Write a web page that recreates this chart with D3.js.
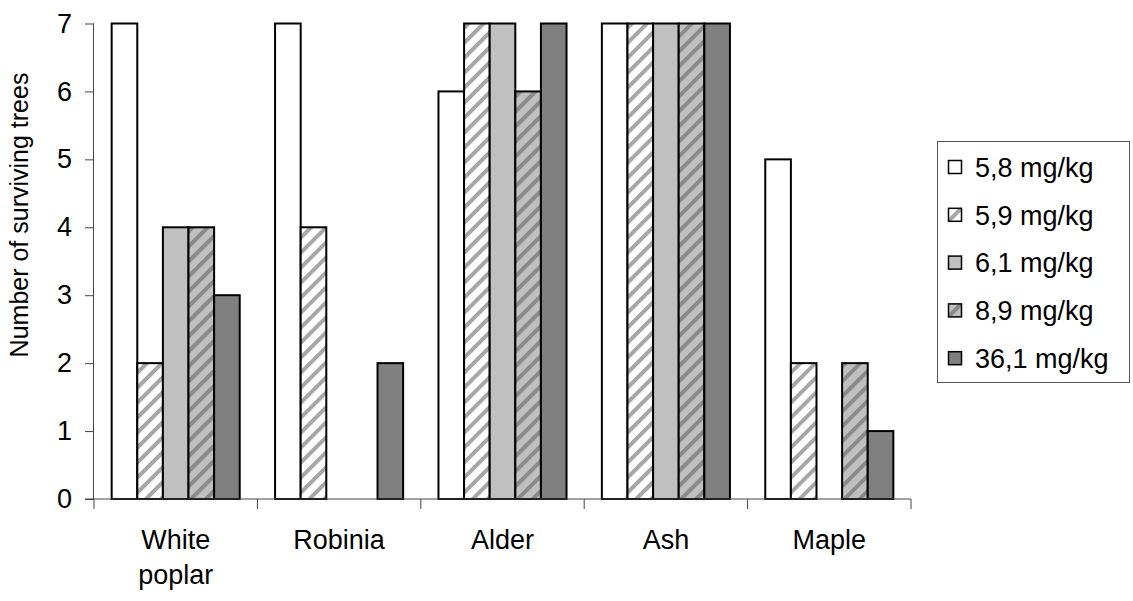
<!DOCTYPE html>
<html>
<head>
<meta charset="utf-8">
<script src="https://cdn.jsdelivr.net/npm/d3@7"></script>
<style>
	body { margin: 0; background: #fff; }
	svg text { font-family: "Liberation Sans", Arial, sans-serif; fill: #000; }
</style>
</head>
<body>
<div id="chart"></div>
<script>
(function (d3) {
	'use strict';

	// DATA
	const categories = ["White poplar", "Robinia", "Alder", "Ash", "Maple"];
	const seriesNames = ["5,8 mg/kg", "5,9 mg/kg", "6,1 mg/kg", "8,9 mg/kg", "36,1 mg/kg"];
	const s58 = [7, 7, 6, 7, 5];
	const s59 = [2, 4, 7, 7, 2];
	const s61 = [4, 0, 7, 7, 0];
	const s89 = [4, 0, 6, 7, 2];
	const s361 = [3, 2, 7, 7, 1];
	const yTicks = [0, 1, 2, 3, 4, 5, 6, 7];
	const yTitle = "Number of surviving trees";

	const seriesValues = [s58, s59, s61, s89, s361];

	const width = 1133, height = 601;
	const margin = { top: 23.5, right: 222, bottom: 102, left: 94 };
	const innerWidth = width - margin.left - margin.right;
	const innerHeight = height - margin.top - margin.bottom;

	const svg = d3.select("#chart").append("svg")
		.attr("width", width)
		.attr("height", height);

	// hatch patterns
	const defs = svg.append("defs");
	const hatch = (id, bg, stripe) => {
		const p = defs.append("pattern")
			.attr("id", id)
			.attr("patternUnits", "userSpaceOnUse")
			.attr("width", 10.6)
			.attr("height", 10.6)
			.attr("patternTransform", "rotate(45)");
		p.append("rect").attr("width", 10.6).attr("height", 10.6).attr("fill", bg);
		p.append("rect").attr("x", 0).attr("width", 4).attr("height", 10.6).attr("fill", stripe);
	};
	hatch("hatchWhite", "#ffffff", "#a6a6a6");
	hatch("hatchGray", "#c0c0c0", "#8a8a8a");

	const fills = ["#ffffff", "url(#hatchWhite)", "#c0c0c0", "url(#hatchGray)", "#808080"];

	const g = svg.append("g")
		.attr("transform", `translate(${margin.left},${margin.top})`);

	// scales
	const x0 = d3.scaleBand()
		.domain(categories)
		.range([0, innerWidth]);

	const x1 = d3.scaleBand()
		.domain(d3.range(seriesNames.length))
		.range([0, x0.bandwidth()])
		.paddingInner(0)
		.paddingOuter(0.69);

	const y = d3.scaleLinear()
		.domain([0, 7])
		.range([innerHeight, 0]);

	// bars
	const groups = g.selectAll(".cat")
		.data(categories)
		.enter().append("g")
		.attr("class", "cat")
		.attr("transform", c => `translate(${x0(c)},0)`);

	groups.selectAll("rect")
		.data((c, ci) => seriesValues.map((vals, si) => ({ si: si, v: vals[ci] })).filter(d => d.v > 0))
		.enter().append("rect")
		.attr("x", d => x1(d.si))
		.attr("width", x1.bandwidth())
		.attr("y", d => y(d.v))
		.attr("height", d => y(0) - y(d.v))
		.attr("fill", d => fills[d.si])
		.attr("stroke", "#000")
		.attr("stroke-width", 2);

	// Y axis
	const yAxisG = g.append("g")
		.call(d3.axisLeft(y).tickValues(yTicks).tickSize(9).tickPadding(13).tickFormat(d3.format("d")));
	yAxisG.selectAll("line, path").attr("stroke", "#444");
	yAxisG.select(".domain").attr("d", `M-0.5,0V${innerHeight}`);
	yAxisG.selectAll("text")
		.style("font-size", "27px")
		.attr("fill", "#000");

	// X axis
	const xAxisG = g.append("g")
		.attr("transform", `translate(0,${innerHeight})`);
	xAxisG.append("line")
		.attr("x1", -9).attr("x2", innerWidth)
		.attr("stroke", "#444");
	const bounds = categories.map(c => x0(c)).concat([x0(categories[categories.length - 1]) + x0.bandwidth()]);
	xAxisG.selectAll(".sep")
		.data(bounds)
		.enter().append("line")
		.attr("class", "sep")
		.attr("x1", d => d).attr("x2", d => d)
		.attr("y1", 0).attr("y2", 10)
		.attr("stroke", "#444");

	const xLabels = xAxisG.selectAll(".xl")
		.data(categories)
		.enter().append("text")
		.attr("class", "xl")
		.attr("text-anchor", "middle")
		.style("font-size", "27px")
		.attr("transform", c => `translate(${x0(c) + x0.bandwidth() / 2},50)`);
	xLabels.selectAll("tspan")
		.data(c => c.split(" "))
		.enter().append("tspan")
		.attr("x", 0)
		.attr("y", (d, i) => i * 35)
		.text(d => d);

	// Y title
	svg.append("text")
		.attr("transform", "translate(28,215) rotate(-90)")
		.attr("text-anchor", "middle")
		.style("font-size", "25px")
		.text(yTitle);

	// Legend
	const legend = svg.append("g").attr("transform", "translate(937,141)");
	legend.append("rect")
		.attr("x", 0.5).attr("y", 0.5)
		.attr("width", 192).attr("height", 241)
		.attr("fill", "#fff")
		.attr("stroke", "#555");

	const item = legend.selectAll(".item")
		.data(seriesNames)
		.enter().append("g")
		.attr("class", "item")
		.attr("transform", (d, i) => `translate(0,${26 + i * 47.8})`);
	item.append("rect")
		.attr("x", 11.5).attr("y", -6.5)
		.attr("width", 13).attr("height", 13)
		.attr("fill", (d, i) => fills[i])
		.attr("stroke", "#000")
		.attr("stroke-width", 1.5);
	item.append("text")
		.attr("x", 38)
		.attr("dy", "0.36em")
		.style("font-size", "27px")
		.text(d => d);
}(d3));
</script>
</body>
</html>
